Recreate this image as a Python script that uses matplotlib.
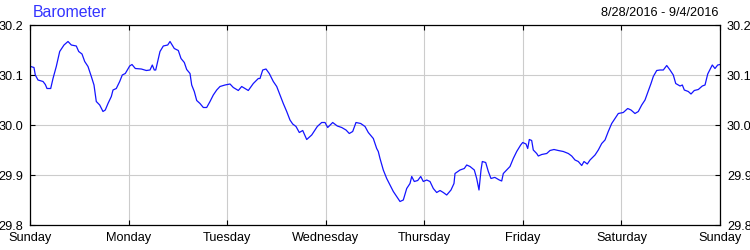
import matplotlib
matplotlib.use("Agg")
import matplotlib.pyplot as plt

# Hours since Sunday 00:00 (8/28/2016) and barometric pressure (inHg)
hours = [0.17, 0.97, 1.29, 1.95, 3.17, 3.73, 4.14, 5.04, 5.60, 6.40, 7.23, 8.28, 9.25, 10.06,
         11.27, 11.86, 12.66, 13.32, 14.12, 14.93, 15.58, 16.14, 16.97, 17.77, 18.33, 18.99,
         19.80, 20.21, 21.01, 21.84, 22.47, 23.20, 24.27, 24.83, 25.64, 27.10, 28.32, 29.22,
         29.78, 30.26, 30.61, 31.09, 31.65, 32.46, 33.53, 34.09, 35.13, 36.11, 36.77, 37.57,
         38.15, 38.96, 39.37, 40.00, 40.59, 41.39, 42.20, 43.02, 43.83, 44.63, 45.46, 46.26,
         47.48, 48.70, 49.50, 50.72, 51.54, 53.15, 54.37, 55.59, 56.00, 56.66, 57.46, 58.26,
         59.24, 60.07, 60.87, 61.67, 62.50, 63.30, 63.96, 64.77, 65.57, 66.40, 67.37, 68.59,
         69.39, 69.95, 71.02, 71.83, 72.48, 73.70, 74.82, 75.89, 76.94, 77.74, 78.57, 79.37,
         80.52, 81.57, 82.37, 83.59, 84.41, 84.80, 85.22, 86.02, 86.85, 87.65, 88.46, 89.28,
         90.09, 90.89, 91.72, 92.52, 92.94, 93.57, 94.40, 95.13, 95.76, 96.59, 97.39, 98.20,
         99.02, 99.83, 100.63, 101.46, 102.50, 103.23, 103.48, 104.70, 105.74, 106.33, 107.13,
         108.18, 108.76, 109.32, 109.81, 110.13, 110.95, 111.59, 112.24, 113.05, 113.22, 114.27,
         114.85, 115.24, 116.07, 116.87, 117.67, 118.50, 119.47, 119.96, 120.77, 121.18, 121.57,
         122.15, 122.54, 123.37, 123.76, 124.59, 125.81, 126.61, 127.58, 128.63, 129.85, 131.07,
         131.89, 132.70, 133.50, 134.33, 134.89, 135.69, 136.35, 137.57, 138.37, 139.20, 140.00,
         140.80, 141.63, 142.43, 143.24, 144.45, 145.53, 146.33, 147.30, 148.11, 148.94, 149.74,
         150.40, 151.20, 151.76, 152.59, 153.39, 154.20, 155.03, 155.83, 156.63, 157.22, 158.27,
         158.83, 159.31, 160.28, 160.94, 161.74, 162.72, 163.69, 164.35, 165.01, 165.57, 166.12,
         166.78, 167.44, 168.0]
pressure = [30.117, 30.115, 30.100, 30.090, 30.087, 30.081, 30.073, 30.073, 30.093, 30.117,
            30.147, 30.160, 30.167, 30.160, 30.158, 30.147, 30.142, 30.127, 30.117, 30.097,
            30.080, 30.047, 30.040, 30.027, 30.030, 30.043, 30.057, 30.070, 30.073, 30.087,
            30.100, 30.103, 30.118, 30.121, 30.113, 30.112, 30.109, 30.110, 30.120, 30.110,
            30.110, 30.127, 30.147, 30.158, 30.160, 30.167, 30.153, 30.149, 30.133, 30.125,
            30.111, 30.103, 30.080, 30.067, 30.049, 30.043, 30.035, 30.035, 30.047, 30.060,
            30.070, 30.077, 30.080, 30.082, 30.075, 30.069, 30.077, 30.069, 30.083, 30.093,
            30.093, 30.110, 30.112, 30.103, 30.087, 30.077, 30.060, 30.043, 30.027, 30.010,
            30.002, 29.997, 29.985, 29.989, 29.971, 29.980, 29.990, 29.997, 30.005, 30.005,
            29.995, 30.005, 29.998, 29.995, 29.990, 29.983, 29.987, 30.005, 30.003, 29.997,
            29.985, 29.973, 29.953, 29.947, 29.933, 29.910, 29.893, 29.880, 29.867, 29.857,
            29.847, 29.850, 29.873, 29.883, 29.897, 29.887, 29.889, 29.897, 29.887, 29.890,
            29.887, 29.873, 29.865, 29.869, 29.865, 29.860, 29.870, 29.883, 29.903, 29.910,
            29.913, 29.920, 29.917, 29.910, 29.893, 29.870, 29.910, 29.927, 29.925, 29.907,
            29.893, 29.895, 29.895, 29.890, 29.888, 29.903, 29.910, 29.917, 29.933, 29.947,
            29.960, 29.965, 29.962, 29.953, 29.971, 29.969, 29.950, 29.943, 29.938, 29.941,
            29.943, 29.949, 29.951, 29.949, 29.947, 29.943, 29.938, 29.930, 29.927, 29.919,
            29.927, 29.922, 29.930, 29.940, 29.950, 29.963, 29.970, 29.987, 30.003, 30.013,
            30.023, 30.025, 30.033, 30.030, 30.023, 30.027, 30.040, 30.050, 30.065, 30.083,
            30.097, 30.109, 30.110, 30.110, 30.119, 30.110, 30.100, 30.083, 30.078, 30.080,
            30.070, 30.067, 30.062, 30.069, 30.071, 30.078, 30.080, 30.102, 30.111, 30.120,
            30.113, 30.120, 30.121]

day_labels = ["Sunday", "Monday", "Tuesday", "Wednesday", "Thursday", "Friday", "Saturday", "Sunday"]
day_ticks = [0, 24, 48, 72, 96, 120, 144, 168]
y_ticks = [29.8, 29.9, 30.0, 30.1, 30.2]
title = "Barometer"
date_range = "8/28/2016 - 9/4/2016"

plt.rcParams['font.family'] = ['Liberation Sans', 'DejaVu Sans']

fig = plt.figure(figsize=(7.5, 2.5), dpi=100)
ax = fig.add_axes([0.04, 0.1, 0.92, 0.8])

ax.plot(hours, pressure, color='#1414ff', lw=0.9)

ax.set_xlim(0, 168)
ax.set_ylim(29.8, 30.2)
ax.set_xticks(day_ticks)
ax.set_xticklabels(day_labels)
ax.set_yticks(y_ticks)
ax.set_yticklabels([f"{v:.1f}" for v in y_ticks])
ax.grid(True, color='#cccccc', lw=0.8)
ax.set_axisbelow(True)

ax.tick_params(axis='both', direction='in', length=3.6, width=0.8, color='black',
               labelsize=9.2, top=True, right=True, labelright=True, labelleft=True,
               labeltop=False)
ax.tick_params(axis='x', pad=5)
ax.tick_params(axis='y', pad=5)
for s in ax.spines.values():
    s.set_color('black')
    s.set_linewidth(0.9)

fig.text(33 / 750, 1 - 12.5 / 250, title, color='#3333ff', fontsize=11.4,
         ha='left', va='center')
fig.text(718 / 750, 1 - 12.5 / 250, date_range, color='black', fontsize=9.2,
         ha='right', va='center')

fig.savefig("out.png", dpi=100)
